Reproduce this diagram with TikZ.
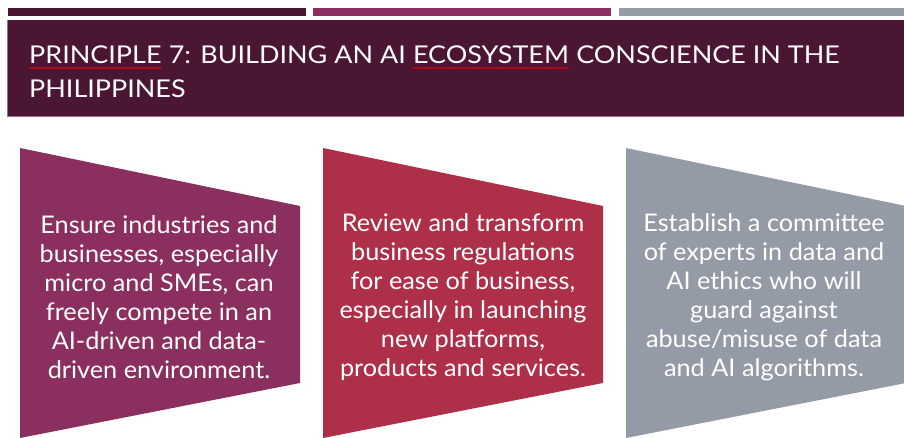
\documentclass[tikz,border=0pt]{standalone}
\usepackage{fontspec}
\setmainfont{Lato}
\newfontfamily\titlefont[FakeStretch=1.1]{Lato}
\newfontfamily\bodyfont[FakeStretch=1.04]{Lato}
\usetikzlibrary{decorations.pathmorphing}
\definecolor{maroon}{HTML}{4B1534}
\definecolor{plum}{HTML}{8B2F5E}
\definecolor{crimson}{HTML}{AD3048}
\definecolor{slate}{HTML}{959BA6}
\tikzset{
  titletext/.style={text=white, font=\titlefont\fontsize{24.5}{28}\selectfont, inner sep=0pt, anchor=base west},
  squiggle/.style={draw=red, line width=0.6pt, decorate, decoration={snake, amplitude=0.8pt, segment length=3pt}},
  bodytext/.style={text=white, align=center, font=\bodyfont\fontsize{24.3}{29}\selectfont, inner sep=0pt}
}
\begin{document}
\begin{tikzpicture}[x=1pt,y=-1pt]
\useasboundingbox (0,0) rectangle (904,438);
\clip (0,0) rectangle (904,438);
% top bars
\fill[maroon] (8,8) rectangle (306,16);
\fill[plum] (313,8) rectangle (611,16);
\fill[slate] (619,8) rectangle (904,16);
% title band
\fill[maroon] (7,20) rectangle (906,117);
\draw[line width=1pt, draw=maroon!60!white] (7.5,117) -- (7.5,20.5);
\draw[line width=1pt, draw=maroon!60!white] (7.5,117) -- (906,117);
\node[titletext] (tp) at (29,64) {PRINCIPLE};
\node[titletext] (ta) at (tp.base east) {\ 7: BUILDING AN AI\ \null};
\node[titletext] (te) at (ta.base east) {ECOSYSTEM};
\node[titletext] (tb) at (te.base east) {\ CONSCIENCE IN THE};
\node[titletext] (t2) at (29,98) {PHILIPPINES};
\coordinate (sq1a) at ([yshift=-4pt]tp.base west);
\coordinate (sq1b) at ([yshift=-4pt]tp.base east);
\coordinate (sq2a) at ([yshift=-4pt]te.base west);
\coordinate (sq2b) at ([yshift=-4pt]te.base east);
\draw[squiggle] (sq1a) -- (sq1b);
\draw[squiggle] (sq2a) -- (sq2b);
% chevrons
\fill[plum] (20,148) -- (300,206) -- (300,383) -- (20,438) -- cycle;
\fill[crimson] (323,148) -- (603,206) -- (603,383) -- (323,438) -- cycle;
\fill[slate] (626,148) -- (906,206) -- (906,383) -- (626,438) -- cycle;
\node[bodytext] (b1) at (159,297) {Ensure industries and\\businesses, especially\\micro and SMEs, can\\freely compete in an\\AI-driven and data-\\driven environment.};
\node[bodytext] (b2) at (463,297) {Review and transform\\business regulations\\for ease of business,\\especially in launching\\new platforms,\\products and services.};
\node[bodytext] (b3) at (764,297) {Establish a committee\\of experts in data and\\AI ethics who will\\guard against\\abuse/misuse of data\\and AI algorithms.};
\end{tikzpicture}
\end{document}
